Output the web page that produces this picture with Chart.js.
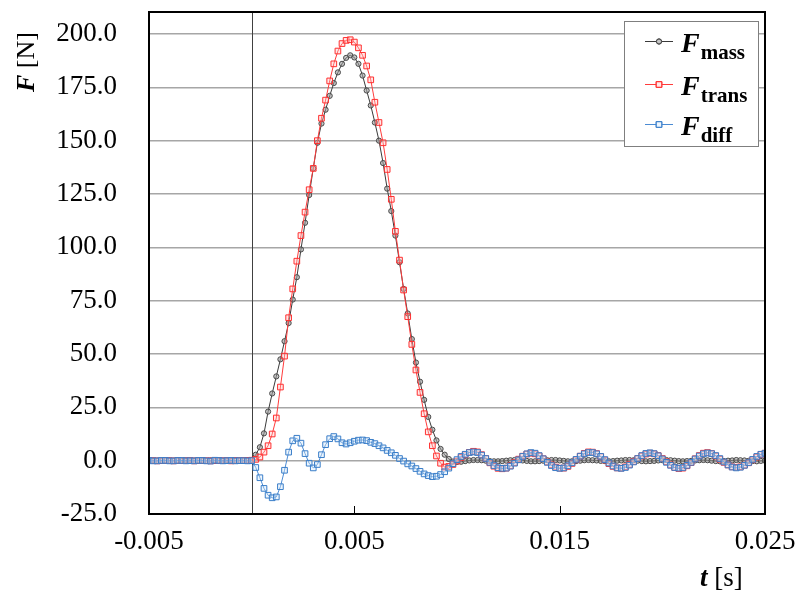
<!DOCTYPE html>
<html><head><meta charset="utf-8">
<script src="https://cdn.jsdelivr.net/npm/chart.js@4.4.1/dist/chart.umd.min.js"></script>
<style>html,body{margin:0;padding:0;background:#fff;}</style>
</head><body>
<canvas id="c" width="796" height="601" style="display:block;width:796px;height:601px"></canvas>
<script>
// time [s]
const timeS = [
-0.0050,-0.0048,-0.0046,-0.0044,-0.0042,-0.0040,-0.0038,-0.0036,-0.0034,-0.0032,
-0.0030,-0.0028,-0.0026,-0.0024,-0.0022,-0.0020,-0.0018,-0.0016,-0.0014,-0.0012,
-0.0010,-0.0008,-0.0006,-0.0004,-0.0002,
0.0000,0.0002,0.0004,0.0006,0.0008,0.0010,0.0012,0.0014,0.0016,0.0018,
0.0020,0.0022,0.0024,0.0026,0.0028,0.0030,0.0032,0.0034,0.0036,0.0038,
0.0040,0.0042,0.0044,0.0046,0.0048,0.0050,0.0052,0.0054,0.0056,0.0058,
0.0060,0.0062,0.0064,0.0066,0.0068,0.0070,0.0072,0.0074,0.0076,0.0078,
0.0080,0.0082,0.0084,0.0086,0.0088,0.0090,0.0092,0.0094,0.0096,0.0098,
0.0100,0.0102,0.0104,0.0106,0.0108,0.0110,0.0112,0.0114,0.0116,0.0118,
0.0120,0.0122,0.0124,0.0126,0.0128,0.0130,0.0132,0.0134,0.0136,0.0138,
0.0140,0.0142,0.0144,0.0146,0.0148,0.0150,0.0152,0.0154,0.0156,0.0158,
0.0160,0.0162,0.0164,0.0166,0.0168,0.0170,0.0172,0.0174,0.0176,0.0178,
0.0180,0.0182,0.0184,0.0186,0.0188,0.0190,0.0192,0.0194,0.0196,0.0198,
0.0200,0.0202,0.0204,0.0206,0.0208,0.0210,0.0212,0.0214,0.0216,0.0218,
0.0220,0.0222,0.0224,0.0226,0.0228,0.0230,0.0232,0.0234,0.0236,0.0238,
0.0240,0.0242,0.0244,0.0246,0.0248,0.0250
];
// F_mass [N]
const fMass = [
0.0,0.1,0.0,-0.1,0.0,0.1,0.0,0.0,-0.1,0.1,0.0,0.0,0.1,-0.1,0.0,0.1,0.0,-0.1,0.0,0.1,0.0,0.0,0.1,0.0,0.1,
0.3,2.8,6.3,12.8,23.0,31.5,39.5,47.5,56.0,64.5,
75.5,86.0,99.0,111.5,124.5,137.0,149.0,158.0,164.5,171.0,
177.0,182.0,186.0,188.8,190.0,189.0,186.0,180.5,173.5,166.5,
158.5,150.0,139.5,127.5,117.0,105.5,93.0,80.5,69.0,57.0,
46.0,37.0,28.5,20.5,14.5,9.5,5.5,2.8,0.8,-0.4,
-0.6,-0.5,-0.2,0.1,0.3,0.3,0.2,0.0,-0.2,-0.3,
-0.3,-0.2,0.0,0.2,0.3,0.3,0.1,-0.1,-0.3,-0.3,
-0.2,0.0,0.2,0.3,0.3,0.1,-0.1,-0.3,-0.3,-0.2,
0.0,0.2,0.3,0.2,0.1,-0.1,-0.2,-0.3,-0.2,0.0,
0.1,0.3,0.3,0.2,0.0,-0.2,-0.3,-0.2,-0.1,0.1,
0.2,0.3,0.2,0.0,-0.2,-0.3,-0.2,-0.1,0.1,0.2,
0.3,0.2,0.0,-0.2,-0.3,-0.2,0.0,0.1,0.3,0.2,
0.1,-0.1,-0.2,-0.3,-0.1,0.0
];
// F_trans [N]
const fTrans = [
0.1,0.0,-0.1,0.0,0.1,0.0,-0.1,0.1,0.0,0.0,0.1,-0.1,0.0,0.1,0.0,-0.1,0.0,0.1,0.0,0.0,-0.1,0.1,0.0,0.1,0.1,
0.2,0.6,1.7,4.0,7.0,12.5,20.0,34.5,49.0,67.0,
80.5,93.5,105.5,116.5,127.0,137.0,150.0,160.5,169.0,178.0,
186.0,192.0,195.5,197.0,197.3,196.2,193.5,190.0,185.0,178.5,
168.0,158.5,149.0,136.5,122.5,107.5,94.0,80.0,67.5,54.5,
42.5,32.0,22.0,13.5,7.0,2.2,-1.2,-3.0,-2.7,-1.8,
-0.2,1.5,2.8,3.9,4.4,4.1,2.8,1.0,-1.0,-2.6,
-3.6,-3.8,-3.5,-2.4,-0.9,0.7,2.1,3.1,3.5,3.2,
2.2,0.9,-0.6,-2.0,-3.0,-3.5,-3.5,-2.7,-1.3,0.4,
2.1,3.4,4.1,4.0,3.3,1.9,0.3,-1.4,-2.7,-3.4,
-3.5,-2.9,-1.8,-0.4,1.0,2.2,3.1,3.5,3.2,2.4,
1.0,-0.5,-2.0,-3.2,-3.7,-3.5,-2.4,-0.9,0.9,2.4,
3.5,3.8,3.3,2.2,0.7,-0.8,-2.0,-2.9,-3.1,-2.9,
-2.1,-1.0,0.4,1.7,2.9,3.5
];
// F_diff [N]
const fDiff = [
0.1,-0.1,-0.1,0.1,0.1,-0.1,-0.1,0.1,0.1,-0.1,0.0,-0.1,0.1,0.1,-0.1,-0.2,0.2,0.1,-0.1,0.0,0.1,-0.1,0.0,0.0,-0.1,
0.0,-3.2,-8.0,-13.0,-16.2,-17.4,-17.0,-12.2,-4.5,4.0,
9.3,10.5,8.2,3.3,-1.2,-3.4,-1.8,2.8,7.5,10.3,
11.3,10.2,8.4,7.8,8.4,9.1,9.6,9.7,9.4,8.6,
8.0,7.0,6.0,4.8,3.7,2.5,1.0,-0.2,-1.5,-2.5,
-3.7,-5.0,-6.2,-7.0,-7.5,-7.3,-6.5,-5.2,-3.5,-1.4,
0.5,2.0,3.0,3.8,4.1,3.8,2.6,1.0,-0.8,-2.3,
-3.3,-3.6,-3.5,-2.6,-1.2,0.4,2.0,3.2,3.8,3.5,
2.4,0.9,-0.8,-2.3,-3.3,-3.6,-3.4,-2.4,-1.0,0.6,
2.1,3.2,3.8,3.8,3.2,2.0,0.5,-1.1,-2.5,-3.4,
-3.6,-3.2,-2.1,-0.6,1.0,2.4,3.4,3.7,3.3,2.3,
0.8,-0.8,-2.2,-3.2,-3.5,-3.2,-2.2,-0.8,0.8,2.2,
3.2,3.6,3.3,2.4,1.0,-0.6,-2.0,-3.0,-3.4,-3.1,
-2.2,-0.9,0.6,2.0,3.0,3.5
];
const xTickValues = [-0.005, 0.005, 0.015, 0.025];
const yTickValues = [-25, 0, 25, 50, 75, 100, 125, 150, 175, 200];
const seriesSubs = ['mass', 'trans', 'diff'];

const toXY = arr => arr.map((v, i) => ({x: timeS[i], y: v}));
const SERIF = '"Liberation Serif", "Times New Roman", serif';

const styles = [
  {line: '#3a3a3a', pb: '#4a4a4a', pf: 'rgba(150,150,150,0.55)', ps: 'circle', r: 2.6},
  {line: '#ff3b3b', pb: '#ff3030', pf: 'rgba(255,190,190,0.35)', ps: 'rect', r: 4},
  {line: '#4b8bd3', pb: '#3a7ec9', pf: 'rgba(205,228,250,0.35)', ps: 'rect', r: 4}
];
const seriesData = [fMass, fTrans, fDiff];

const datasets = seriesData.map((arr, k) => ({
  label: 'F' + seriesSubs[k],
  data: toXY(arr),
  borderColor: styles[k].line,
  borderWidth: 1,
  pointStyle: styles[k].ps,
  pointRadius: styles[k].r,
  pointBorderWidth: 1,
  pointBorderColor: styles[k].pb,
  pointBackgroundColor: styles[k].pf,
  tension: 0,
  order: 2 - k
}));

const decor = {
  id: 'decor',
  beforeDatasetsDraw(chart) {
    const {ctx, chartArea: a, scales: {x}} = chart;
    const x0 = Math.round(x.getPixelForValue(0)) + 0.5;
    ctx.save();
    ctx.strokeStyle = '#404040';
    ctx.lineWidth = 1;
    ctx.beginPath(); ctx.moveTo(x0, a.top); ctx.lineTo(x0, a.bottom); ctx.stroke();
    ctx.restore();
  },
  afterDatasetsDraw(chart) {
    const {ctx, chartArea: a, scales: {x}} = chart;
    ctx.save();
    ctx.strokeStyle = '#000';
    ctx.lineWidth = 1;
    xTickValues.forEach(v => {
      const px = Math.round(x.getPixelForValue(v)) + 0.5;
      ctx.beginPath(); ctx.moveTo(px, a.bottom); ctx.lineTo(px, a.bottom - 8); ctx.stroke();
    });
    ctx.lineWidth = 2;
    ctx.strokeRect(a.left, a.top, a.right - a.left, a.bottom - a.top);
    ctx.restore();
  },
  afterDraw(chart) {
    const {ctx} = chart;
    ctx.save();
    // y title
    ctx.save();
    ctx.translate(34, 92);
    ctx.rotate(-Math.PI / 2);
    ctx.fillStyle = '#000';
    ctx.textBaseline = 'alphabetic';
    ctx.font = 'bold italic 26px ' + SERIF;
    ctx.fillText('F', 0, 0);
    let w = ctx.measureText('F').width;
    ctx.font = '26px ' + SERIF;
    ctx.fillText(' [N]', w, 0);
    ctx.restore();
    // x title
    ctx.fillStyle = '#000';
    ctx.textBaseline = 'alphabetic';
    ctx.font = 'bold italic 27px ' + SERIF;
    ctx.fillText('t', 700, 586);
    w = ctx.measureText('t').width;
    ctx.font = '27px ' + SERIF;
    ctx.fillText(' [s]', 700 + w, 586);
    // legend
    ctx.fillStyle = '#fff';
    ctx.fillRect(624, 21, 134, 125);
    ctx.strokeStyle = '#7f7f7f';
    ctx.lineWidth = 1;
    ctx.strokeRect(624.5, 21.5, 134, 125);
    const rows = [41, 84, 124];
    rows.forEach((yy, k) => {
      const s = styles[k];
      ctx.strokeStyle = s.line;
      ctx.lineWidth = 1;
      ctx.beginPath(); ctx.moveTo(645, yy + 0.5); ctx.lineTo(673, yy + 0.5); ctx.stroke();
      ctx.fillStyle = '#fff';
      Chart.helpers.drawPoint(ctx, {pointStyle: s.ps, radius: s.r, borderWidth: 1}, 659, yy + 0.5);
      ctx.fillStyle = s.pf; ctx.strokeStyle = s.pb;
      Chart.helpers.drawPoint(ctx, {pointStyle: s.ps, radius: s.r, borderWidth: 1}, 659, yy + 0.5);
      ctx.fillStyle = '#000';
      ctx.font = 'bold italic 28px ' + SERIF;
      ctx.fillText('F', 681, yy + 11);
      const fw = ctx.measureText('F').width;
      ctx.font = 'bold 21px ' + SERIF;
      ctx.fillText(seriesSubs[k], 681 + fw + 1, yy + 18);
    });
    ctx.restore();
  }
};

new Chart(document.getElementById('c'), {
  type: 'line',
  data: {datasets},
  plugins: [decor],
  options: {
    responsive: false,
    devicePixelRatio: 1,
    animation: false,
    layout: {padding: {left: 0, right: 31, top: 12, bottom: 0}},
    plugins: {legend: {display: false}, tooltip: {enabled: false}},
    scales: {
      x: {
        type: 'linear',
        min: -0.005, max: 0.025,
        afterBuildTicks: s => { s.ticks = xTickValues.map(v => ({value: v})); },
        afterFit: s => { s.height = 87; s.paddingLeft = 0; s.paddingRight = 0; s.paddingTop = 0; s.paddingBottom = 0; },
        grid: {display: false, drawTicks: false},
        border: {display: false},
        ticks: {
          autoSkip: false, maxRotation: 0, padding: 12,
          color: '#000',
          font: {family: SERIF, size: 27},
          callback: v => Number(v).toFixed(3)
        }
      },
      y: {
        type: 'linear',
        min: -25, max: 210.3,
        afterBuildTicks: s => { s.ticks = yTickValues.map(v => ({value: v})); },
        afterFit: s => { s.width = 149; s.paddingTop = 0; s.paddingBottom = 0; s.paddingLeft = 0; s.paddingRight = 0; },
        grid: {color: '#a6a6a6', lineWidth: 1.5, drawTicks: false},
        border: {display: false},
        ticks: {
          padding: 32, color: '#000',
          font: {family: SERIF, size: 27},
          callback: v => Number(v).toFixed(1)
        }
      }
    }
  }
});
</script>
</body></html>
